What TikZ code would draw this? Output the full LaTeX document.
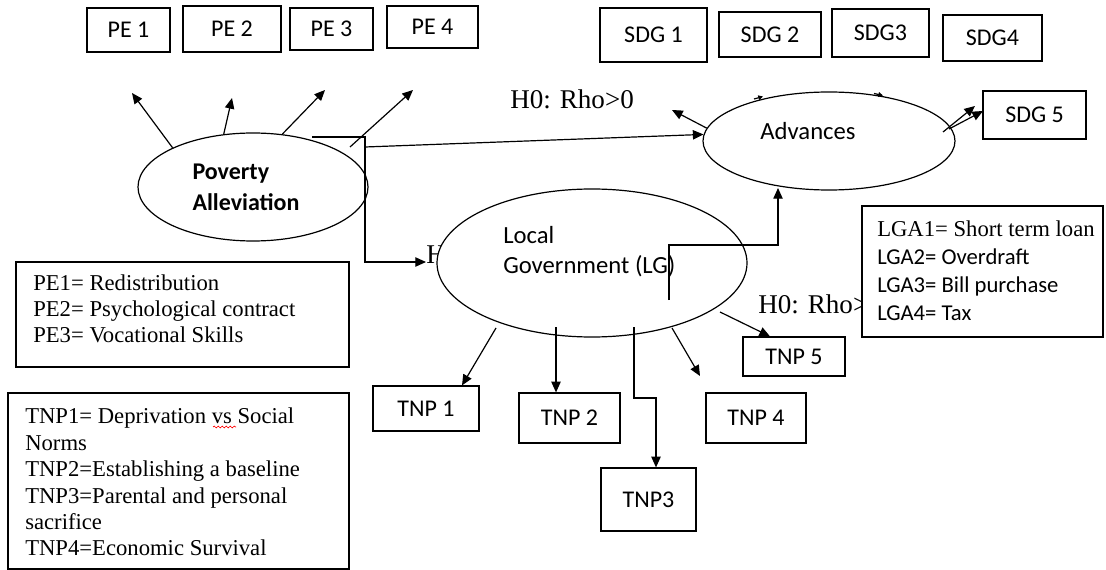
\documentclass[tikz,border=0pt]{standalone}
\usepackage{fontspec}
\setmainfont{Liberation Serif}
\newfontfamily\calfont{Carlito}
\usetikzlibrary{shapes.geometric,arrows.meta,decorations.pathmorphing}
\begin{document}
\begin{tikzpicture}[x=0.75pt,y=-0.75pt,
  lw/.style={line width=0.9pt},
  sz/.style 2 args={minimum width=#1*0.75pt, minimum height=#2*0.75pt},
  bx/.style={draw, lw, fill=white, inner sep=0pt, font=\calfont\fontsize{18}{21}\selectfont},
  oval/.style={ellipse, draw, lw, fill=white, inner sep=0pt},
  ovaltext/.style={align=left, inner sep=0pt, font=\calfont\fontsize{18.5}{22.5}\selectfont},
  arr/.style={lw, -{Triangle[length=8pt,width=7pt]}},
  tinytip/.style={lw, -{Triangle[length=3.5pt,width=3.5pt]}},
  ln/.style={lw},
  leg/.style={align=left, inner sep=0pt, anchor=north west},
  hyp/.style={font=\fontsize{20.3}{24}\selectfont, inner sep=0pt, anchor=base west}]
\useasboundingbox (0,0) rectangle (1106,570);
\fill[white] (0,0) rectangle (1106,570);

% top boxes
\node[bx, sz={83}{44}] (pe1) at (128.5,30) {PE 1};
\node[bx, sz={98}{46}] (pe2) at (232,29) {PE 2};
\node[bx, sz={83}{42}] (pe3) at (331.5,29) {PE 3};
\node[bx, sz={91}{42}] (pe4) at (432.5,27) {PE 4};
\node[bx, sz={107}{54}] (sdg1) at (653.5,35) {SDG 1};
\node[bx, sz={102}{45}] (sdg2) at (770,34.5) {SDG 2};
\node[bx, sz={97}{48}] (sdg3) at (880.5,33) {SDG3};
\node[bx, sz={99}{46}] (sdg4) at (992.5,38) {SDG4};
\node[bx, sz={103}{48}] (sdg5) at (1034.5,115) {SDG 5};

% hypothesis labels (partly hidden behind shapes)
\node[hyp] (h1) at (510,109) {H0: Rho>0};
\node[hyp] (h2) at (426,264) {H0: Rho>0};
\node[hyp] (h3) at (758,313) {H0: Rho>0};

% ellipses
\node[oval, sz={230}{108}] (pov) at (253,187) {};
\node[ovaltext, font=\calfont\bfseries\fontsize{18}{23}\selectfont] (povt) at (246,187) {Poverty\\Alleviation};
\node[oval, sz={252}{98}] (adv) at (829,141) {};
\node[ovaltext] (advt) at (808,131) {Advances};
\node[oval, sz={310}{148}] (lg) at (592,263) {};
\node[ovaltext, anchor=west] (lgt) at (503,252) {Local\\Government (LG)};

% TNP boxes
\node[bx, sz={106}{45}] (tnp1) at (426,408.5) {TNP 1};
\node[bx, sz={101}{50}] (tnp2) at (569.5,418) {TNP 2};
\node[bx, sz={95}{63}] (tnp3) at (648.5,499.5) {TNP3};
\node[bx, sz={100}{50}] (tnp4) at (756,418) {TNP 4};
\node[bx, sz={102}{39}] (tnp5) at (794,356.5) {TNP 5};

% legend boxes
\node[draw, lw, sz={333}{105}] (pebox) at (182.5,314.5) {};
\node[leg, font=\fontsize{17}{19.5}\selectfont] (petxt) at (33,275)
  {PE1= Redistribution\\PE2= Psychological contract\\PE3= Vocational Skills};
\node[draw, lw, sz={341}{176}] (tnpbox) at (178.5,481) {};
\node[leg, font=\fontsize{17}{19.8}\selectfont] (tnptxt) at (25,408)
  {TNP1= Deprivation vs Social\\Norms\\TNP2=Establishing a baseline\\TNP3=Parental and personal\\sacrifice\\TNP4=Economic Survival};
\draw[red, line width=0.5pt, decorate, decoration={snake, amplitude=0.7pt, segment length=3pt}] (213,427) -- (236,427);
\node[draw, lw, fill=white, sz={241}{131}] (lgabox) at (982.5,271.5) {};
\node[leg, font=\fontsize{17}{20.8}\selectfont] (lgatxt) at (877,221)
  {LGA1= Short term loan\\{\calfont LGA2= Overdraft}\\{\calfont LGA3= Bill purchase}\\{\calfont LGA4= Tax}};

% connectors from Poverty Alleviation
\coordinate (p1) at (132,93);
\coordinate (p2) at (232,98);
\coordinate (p3) at (325,90);
\coordinate (p4s) at (350,147);
\coordinate (p4) at (413,90);
\draw[arr] (pov.154) -- (p1);
\draw[arr] (pov.119) -- (p2);
\draw[arr] (pov.61) -- (p3);
\draw[arr] (p4s) -- (p4);

\coordinate (k1) at (312,137);
\coordinate (k2) at (365,137);
\coordinate (hin) at (426,262);
\draw[arr] (k1) -- (k2) |- (hin);
\coordinate (k3) at (365,147);
\draw[arr] (k3) -- (adv.177);

% Advances connectors
\coordinate (a1) at (672,110);
\draw[arr] (adv.174) -- (a1);
\coordinate (d1s) at (943,132);
\coordinate (d1e) at (975,106);
\coordinate (d2s) at (949,129);
\coordinate (d2e) at (983,111);
\draw[arr] (d1s) -- (d1e);
\draw[arr] (d2s) -- (d2e);
\draw[tinytip] (754,99) -- (763,96.5);
\draw[tinytip] (874,93.5) -- (883,95.5);

% LG to Advances
\coordinate (v1) at (669,300);
\coordinate (v2) at (669,245);
\coordinate (v3) at (778,188);
\draw[arr] (v1) -- (v2) -| (v3);

% LG to TNP
\coordinate (t1s) at (496,328);
\draw[arr] (t1s) -- ([xshift=27pt]tnp1.north);
\coordinate (t2s) at (556,327);
\draw[arr] (t2s) -- (t2s |- tnp2.north);
\coordinate (t3s) at (634,327);
\coordinate (t3k) at (656,398);
\draw[arr] (t3s) |- (t3k) -- (t3k |- tnp3.north);
\coordinate (t4s) at (672,328);
\coordinate (t4e) at (700,376);
\draw[arr] (t4s) -- (t4e);
\coordinate (t5s) at (720,312);
\draw[arr] (t5s) -- ([xshift=-18pt]tnp5.north);
\end{tikzpicture}
\end{document}
